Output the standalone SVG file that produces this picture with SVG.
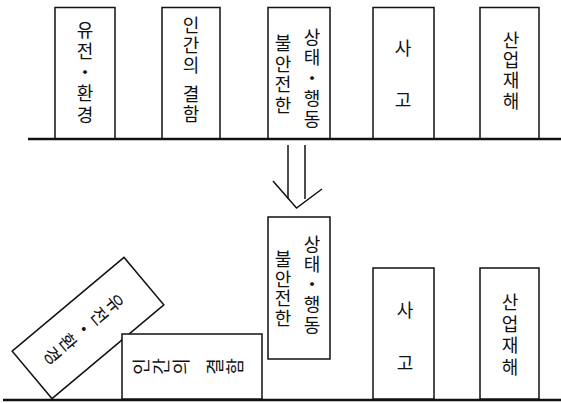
<svg xmlns="http://www.w3.org/2000/svg" width="561" height="403" viewBox="0 0 561 403">
<style>
.box{fill:#fff;stroke:#111;stroke-width:1.5}
.base{stroke:#111;stroke-width:2.6}
.t{font-family:"Noto Sans CJK KR","Noto Sans",sans-serif;font-size:18px;fill:#111;writing-mode:vertical-rl;dominant-baseline:central}
.arr{fill:none;stroke:#111;stroke-width:1.5}
</style>
<rect width="561" height="403" fill="#fff"/>
<g id="baselines">
<line class="base" x1="28" y1="139" x2="561" y2="139"/>
<line class="base" x1="3" y1="400" x2="561" y2="400"/>
</g>
<g id="top-genetics">
<rect class="box" x="55" y="7.5" width="60" height="131"/>
<text class="t" x="85" y="21" letter-spacing="3.2">유전・환경</text>
</g>
<g id="top-human">
<rect class="box" x="162" y="7.5" width="58" height="131"/>
<text class="t" x="191" y="16" letter-spacing="2">인간의<tspan dy="3"> 결함</tspan></text>
</g>
<g id="top-unsafe">
<rect class="box" x="268" y="7.5" width="62" height="131"/>
<text class="t" x="312" y="28" letter-spacing="2.5">상태・행동</text>
<text class="t" x="283" y="34" letter-spacing="2.7">불안전한</text>
</g>
<g id="top-accident">
<rect class="box" x="373" y="7.5" width="61" height="131"/>
<text class="t" x="403" y="39" letter-spacing="15">사 고</text>
</g>
<g id="top-injury">
<rect class="box" x="480" y="7.5" width="59" height="131"/>
<text class="t" x="511" y="31" letter-spacing="2.3">산업재해</text>
</g>
<g id="connectors">
<line class="arr" x1="288" y1="145" x2="288" y2="199"/>
<line class="arr" x1="305" y1="145" x2="305" y2="199"/>
<polyline class="arr" points="273,181 296.5,208 322,189"/>
</g>
<g id="bottom-genetics" transform="translate(88,328) rotate(50)">
<rect class="box" x="-31" y="-73" width="62" height="146"/>
<text class="t" x="-2" y="-46" letter-spacing="2.5">유전・환경</text>
</g>
<g id="bottom-human" transform="translate(192,366.5) rotate(-90)">
<rect class="box" x="-32.5" y="-70" width="65" height="140"/>
<text class="t" x="0" y="-60" letter-spacing="2">인간의<tspan dy="8"> 결함</tspan></text>
</g>
<g id="bottom-unsafe">
<rect class="box" x="268" y="217" width="62" height="142"/>
<text class="t" x="312" y="235" letter-spacing="2.2">상태・행동</text>
<text class="t" x="283" y="250" letter-spacing="1.7">불안전한</text>
</g>
<g id="bottom-accident">
<rect class="box" x="373" y="268" width="61" height="131"/>
<text class="t" x="405" y="301" letter-spacing="15.5">사 고</text>
</g>
<g id="bottom-injury">
<rect class="box" x="480" y="268" width="59" height="131"/>
<text class="t" x="510" y="293" letter-spacing="3.7">산업재해</text>
</g>
</svg>
